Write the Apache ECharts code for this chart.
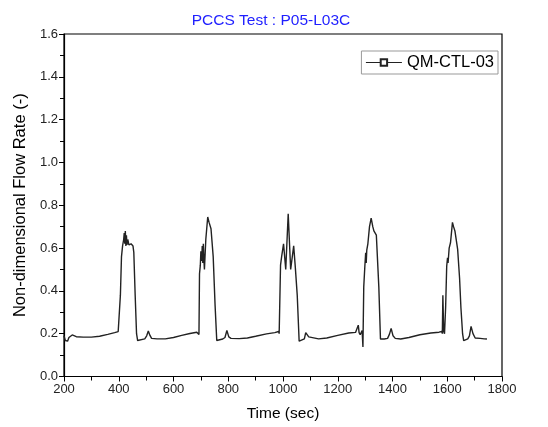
<!DOCTYPE html>
<html>
<head>
<meta charset="utf-8">
<script src="https://cdn.jsdelivr.net/npm/echarts@6/dist/echarts.min.js"></script>
<style>html,body{margin:0;padding:0;background:#fff}#c{width:548px;height:427px}</style>
</head>
<body>
<div id="c"></div>
<script>
var titleText = 'PCCS Test : P05-L03C';
var seriesName = 'QM-CTL-03';
var xTicks = [200, 400, 600, 800, 1000, 1200, 1400, 1600, 1800];
var yTicks = [0.0, 0.2, 0.4, 0.6, 0.8, 1.0, 1.2, 1.4, 1.6];

var time = [
  200, 203, 205, 209, 213, 218, 225, 230, 235, 245, 270, 300, 330, 360, 385, 398,
  400, 403, 406, 410, 414, 418, 420, 422, 424, 426, 428, 430, 433, 437, 445, 452, 455, 460, 465, 469, 476, 495, 502, 508, 514, 520, 540, 570, 600, 630, 660, 685,
  690, 693, 695, 698, 700, 703, 705, 707, 709, 711, 713, 718, 725, 730, 737, 745, 752, 758, 765, 780, 788, 795, 802, 810, 840, 870, 900, 940, 970, 984,
  986, 988, 991, 995, 1002, 1010, 1019, 1028, 1039, 1045, 1052, 1059, 1065, 1078, 1083, 1088, 1094, 1100, 1130, 1160, 1200, 1240, 1265, 1272,
  1275, 1278, 1282, 1286, 1289, 1292, 1295, 1299, 1302, 1304, 1306, 1310, 1316, 1322, 1328, 1332, 1341, 1350, 1356, 1362, 1370, 1382, 1389, 1395, 1402, 1410, 1430, 1460, 1500, 1540, 1570, 1580,
  1582, 1584, 1587, 1590, 1594, 1598, 1601, 1603, 1607, 1612, 1619, 1623, 1628, 1638, 1645, 1650, 1656, 1660, 1667, 1675, 1681, 1687, 1694, 1702, 1709, 1720, 1735, 1745
];
var flow = [
  0.190, 0.186, 0.168, 0.163, 0.165, 0.182, 0.186, 0.194, 0.199, 0.186, 0.184, 0.184, 0.188, 0.197, 0.205, 0.210,
  0.211, 0.205, 0.380, 0.560, 0.610, 0.640, 0.670, 0.620, 0.680, 0.610, 0.660, 0.615, 0.640, 0.615, 0.620, 0.610, 0.580, 0.380, 0.200, 0.168, 0.172, 0.176, 0.190, 0.213, 0.192, 0.178, 0.176, 0.176, 0.182, 0.192, 0.201, 0.207,
  0.210, 0.196, 0.480, 0.520, 0.585, 0.540, 0.610, 0.530, 0.620, 0.545, 0.500, 0.640, 0.745, 0.720, 0.690, 0.560, 0.330, 0.168, 0.172, 0.175, 0.182, 0.215, 0.185, 0.178, 0.177, 0.180, 0.188, 0.199, 0.205, 0.210,
  0.200, 0.195, 0.520, 0.560, 0.620, 0.500, 0.760, 0.500, 0.610, 0.510, 0.380, 0.165, 0.170, 0.176, 0.205, 0.212, 0.185, 0.178, 0.176, 0.180, 0.192, 0.203, 0.206, 0.210,
  0.240, 0.205, 0.195, 0.200, 0.215, 0.138, 0.420, 0.515, 0.578, 0.530, 0.590, 0.620, 0.700, 0.740, 0.700, 0.680, 0.660, 0.420, 0.175, 0.172, 0.175, 0.178, 0.198, 0.225, 0.190, 0.178, 0.175, 0.182, 0.195, 0.203, 0.207, 0.210,
  0.200, 0.380, 0.210, 0.200, 0.320, 0.515, 0.555, 0.530, 0.600, 0.626, 0.720, 0.700, 0.680, 0.594, 0.460, 0.320, 0.200, 0.168, 0.172, 0.176, 0.190, 0.234, 0.200, 0.180, 0.177, 0.178, 0.176, 0.175
];

var data = time.map(function (t, i) { return [t, flow[i]]; });

var chart = echarts.init(document.getElementById('c'), null, {renderer: 'canvas'});
var font = 'Liberation Sans, Arial, sans-serif';
chart.setOption({
  animation: false,
  backgroundColor: '#fff',
  title: {
    text: titleText,
    left: 266, top: 8, textAlign: 'center',
    textStyle: {color: '#1f1fff', fontSize: 15.5, fontWeight: 'normal', fontFamily: font}
  },
  grid: {left: 64, right: 46, top: 34, bottom: 50.5, show: true, borderColor: '#000', borderWidth: 1.2, backgroundColor: 'transparent'},
  legend: {
    right: 50, top: 51, orient: 'horizontal',
    data: [seriesName],
    itemWidth: 36, itemHeight: 8, itemGap: 4,
    padding: [3, 4, 3, 4],
    borderColor: '#999', borderWidth: 1, borderRadius: 0,
    lineStyle: {width: 1},
    itemStyle: {borderWidth: 1},
    textStyle: {fontSize: 16.5, color: '#000', fontFamily: font}
  },
  xAxis: {
    type: 'value', min: 200, max: 1800, interval: 200,
    name: 'Time (sec)', nameLocation: 'middle', nameGap: 29,
    nameTextStyle: {fontSize: 15.5, color: '#000', fontFamily: font},
    axisLine: {show: true, onZero: false, lineStyle: {color: '#000', width: 1.2}},
    axisTick: {show: true, inside: false, length: 5, lineStyle: {color: '#000'}},
    minorTick: {show: true, splitNumber: 2, length: 4, lineStyle: {color: '#000'}},
    axisLabel: {fontSize: 13, color: '#222', fontFamily: font, margin: 6,
      formatter: function (v) { return xTicks.indexOf(v) >= 0 ? String(v) : ''; }},
    splitLine: {show: false}
  },
  yAxis: {
    type: 'value', min: 0, max: 1.6, interval: 0.2,
    name: 'Non-dimensional Flow Rate (-)', nameLocation: 'middle', nameGap: 34,
    nameTextStyle: {fontSize: 16.5, color: '#000', fontFamily: font},
    axisLine: {show: true, onZero: false, lineStyle: {color: '#000', width: 1.2}},
    axisTick: {show: true, inside: false, length: 5, lineStyle: {color: '#000'}},
    minorTick: {show: true, splitNumber: 2, length: 4, lineStyle: {color: '#000'}},
    axisLabel: {fontSize: 13, color: '#222', fontFamily: font, margin: 6,
      formatter: function (v) { return yTicks.indexOf(Math.round(v * 10) / 10) >= 0 ? v.toFixed(1) : ''; }},
    splitLine: {show: false}
  },
  series: [{
    name: seriesName,
    type: 'line',
    data: data,
    symbol: 'emptyRect',
    symbolSize: 6,
    showSymbol: false,
    lineStyle: {color: '#222', width: 1.4},
    itemStyle: {color: '#222', borderColor: '#222', borderWidth: 1},
    emphasis: {disabled: true}
  }]
});
</script>
</body>
</html>
